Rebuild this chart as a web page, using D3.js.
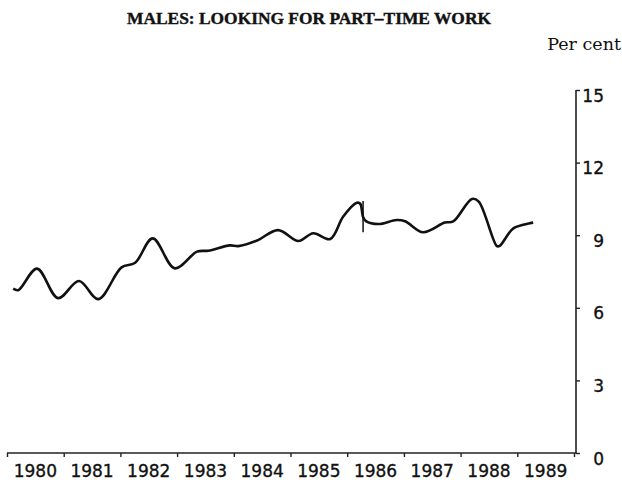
<!DOCTYPE html>
<html>
<head>
<meta charset="utf-8">
<script src="https://cdn.jsdelivr.net/npm/d3@7"></script>
<style>
  html, body { margin: 0; padding: 0; background: #fff; }
  svg { display: block; }
  .tick-label { font-family: "DejaVu Sans", sans-serif; font-size: 17px; fill: #111; stroke: #111; stroke-width: 0.35px; }
</style>
</head>
<body>
<div id="view"></div>
<script>
// ---- data ----
const years = [1980, 1981, 1982, 1983, 1984, 1985, 1986, 1987, 1988, 1989];
const yTicks = [0, 3, 6, 9, 12, 15];

// decimal year / per cent
const lineYears = [
  1980.11, 1980.20, 1980.53, 1980.90, 1981.27, 1981.61, 1982.02, 1982.26,
  1982.57, 1982.96, 1983.35, 1983.55, 1983.93, 1984.08, 1984.40, 1984.78,
  1985.14, 1985.40, 1985.70, 1985.93, 1986.17, 1986.23, 1986.28, 1986.33,
  1986.55, 1986.87, 1987.02, 1987.34, 1987.72, 1987.87, 1988.20, 1988.32,
  1988.64, 1988.69, 1988.93, 1989.22, 1989.28
];
const lineValues = [
  6.79, 6.73, 7.62, 6.40, 7.11, 6.36, 7.67, 7.86,
  8.87, 7.63, 8.32, 8.36, 8.58, 8.55, 8.77, 9.21,
  8.76, 9.08, 8.84, 9.77, 10.34, 10.30, 9.75, 9.58,
  9.46, 9.63, 9.58, 9.12, 9.52, 9.57, 10.50, 10.39,
  8.55, 8.56, 9.28, 9.49, 9.52
];

// series break marker (1986)
const breakYear = 1986.28;
const breakRange = [9.12, 10.41];

(function () {
  const W = 622, H = 484;
  const svg = d3.select("#view").append("svg")
    .attr("width", W).attr("height", H);

  const x = d3.scaleLinear().domain([1980, 1990]).range([7, 574]);
  const y = d3.scaleLinear().domain([0, 15]).range([453, 90]);
  const axisX = 576;

  // title
  svg.append("text")
    .attr("x", 309).attr("y", 24)
    .attr("text-anchor", "middle")
    .style("font-family", "'Liberation Serif', serif")
    .style("font-weight", "bold")
    .style("font-size", "17.4px")
    .style("fill", "#111")
    .style("stroke", "#111")
    .style("stroke-width", "0.4px")
    .text("MALES: LOOKING FOR PART–TIME WORK");

  svg.append("text")
    .attr("x", 621).attr("y", 50)
    .attr("text-anchor", "end")
    .style("font-family", "'DejaVu Serif', serif")
    .style("font-size", "17.5px")
    .style("fill", "#111")
    .text("Per cent");

  // x axis (year boundaries, labels mid-year)
  const gx = svg.append("g").attr("transform", `translate(0,${y(0)})`);
  gx.call(d3.axisBottom(x).tickValues(d3.range(1980, 1991)).tickSize(4).tickFormat(""))
    .select(".domain").remove();
  gx.selectAll(".tick line").attr("stroke", "#222").attr("stroke-width", 1.4);
  gx.append("line")
    .attr("x1", x(1980)).attr("x2", axisX)
    .attr("stroke", "#222").attr("stroke-width", 1.6);
  gx.selectAll("text.tick-label")
    .data(years)
    .join("text")
    .attr("class", "tick-label")
    .attr("x", d => x(d + 0.5))
    .attr("y", 24)
    .attr("text-anchor", "middle")
    .text(d => d);

  // y axis on the right
  const gy = svg.append("g").attr("transform", `translate(${axisX},0)`);
  gy.call(d3.axisRight(y).tickValues(yTicks).tickSize(4).tickFormat(""))
    .select(".domain").remove();
  gy.selectAll(".tick line").attr("stroke", "#222").attr("stroke-width", 1.4);
  gy.append("line")
    .attr("y1", y(15)).attr("y2", y(0))
    .attr("stroke", "#222").attr("stroke-width", 1.6);
  gy.selectAll("text.tick-label")
    .data(yTicks)
    .join("text")
    .attr("class", "tick-label")
    .attr("x", 28)
    .attr("y", d => y(d) + 11.5)
    .attr("text-anchor", "end")
    .text(d => d);

  // the series
  const pts = lineYears.map((t, i) => [t, lineValues[i]]);
  const line = d3.line()
    .x(d => x(d[0]))
    .y(d => y(d[1]))
    .curve(d3.curveCatmullRom.alpha(0.5));

  svg.append("path")
    .datum(pts)
    .attr("d", line)
    .attr("fill", "none")
    .attr("stroke", "#111")
    .attr("stroke-width", 2.6)
    .attr("stroke-linejoin", "round");

  // break in series
  svg.append("line")
    .attr("x1", x(breakYear)).attr("x2", x(breakYear))
    .attr("y1", y(breakRange[0])).attr("y2", y(breakRange[1]))
    .attr("stroke", "#111")
    .attr("stroke-width", 1.5);
})();
</script>
</body>
</html>
